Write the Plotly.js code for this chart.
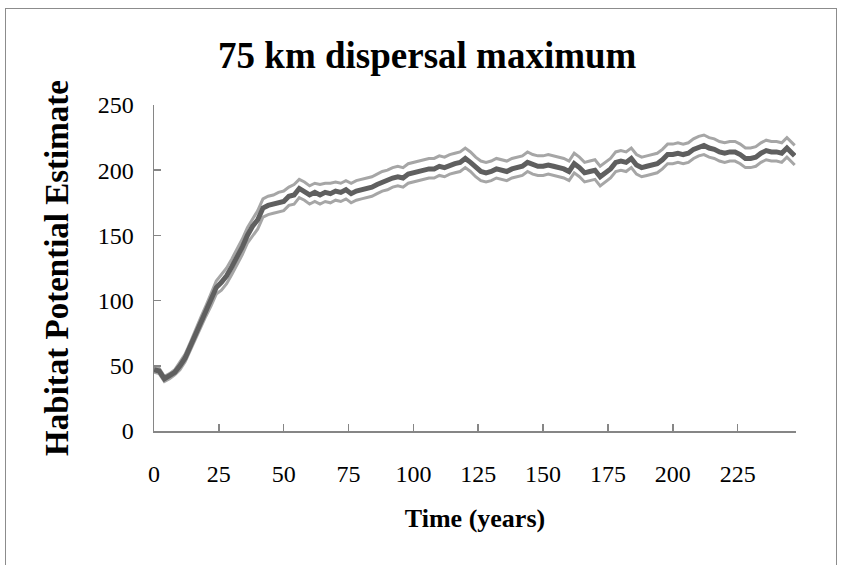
<!DOCTYPE html>
<html>
<head>
<meta charset="utf-8">
<script src="https://cdn.plot.ly/plotly-3.0.1.min.js"></script>
<style>
  body { margin: 0; padding: 0; background: #fff; }
  #wrap { position: relative; width: 841px; height: 565px; overflow: hidden; }
  #chart { position: absolute; left: 0; top: 0; width: 841px; height: 565px; }
  #frame { position: absolute; left: 5px; top: 8px; width: 830px; height: 600px; border: 1px solid #8c8c8c; pointer-events: none; }
</style>
</head>
<body>
<div id="wrap">
  <div id="chart"></div>
  <div id="frame"></div>
</div>
<script>
const years = [0,2,4,6,8,10,12,14,16,18,20,22,24,26,28,30,32,34,36,38,40,42,44,46,48,50,52,54,56,58,60,62,64,66,68,70,72,74,76,78,80,82,84,86,88,90,92,94,96,98,100,102,104,106,108,110,112,114,116,118,120,122,124,126,128,130,132,134,136,138,140,142,144,146,148,150,152,154,156,158,160,162,164,166,168,170,172,174,176,178,180,182,184,186,188,190,192,194,196,198,200,202,204,206,208,210,212,214,216,218,220,222,224,226,228,230,232,234,236,238,240,242,244,246,247];

const meanVals = [47,46,40,42,45,50,56,65,74,83,92,101,110,114,119,126,133,141,150,157,162,171,173,174,175,176,180,181,186,184,181,183,181,183,182,184,183,185,182,184,185,186,187,189,191,192,194,195,194,197,198,199,200,201,201,203,202,204,205,206,209,206,202,199,198,199,201,200,199,201,202,203,206,204,203,203,204,203,202,201,199,205,202,198,199,200,195,198,201,206,207,206,209,204,202,203,204,205,208,212,212,213,212,213,216,218,219,217,216,214,213,214,214,212,209,209,210,213,215,214,214,213,217,213,211];

const upperVals = [49,48,42,44,47,53,59,68,78,87,96,106,115,120,125,132,139,147,156,163,169,178,180,181,183,184,187,189,193,191,188,190,189,190,190,191,190,192,190,192,193,194,195,197,199,200,202,203,202,205,206,207,208,209,209,211,210,212,213,214,217,214,210,207,206,207,209,208,207,209,210,211,214,212,211,211,212,211,210,209,207,213,210,206,207,208,203,206,209,214,215,214,217,212,210,211,212,213,216,220,220,221,220,221,224,226,227,225,224,222,221,222,222,220,217,217,218,221,223,222,222,221,225,221,219];

const lowerVals = [45,44,38,40,43,47,53,62,70,79,88,96,105,108,113,120,127,135,144,150,155,164,166,167,168,169,173,174,179,177,174,176,174,176,175,177,176,178,175,177,178,179,180,182,184,185,187,188,187,190,191,192,193,194,194,196,195,197,198,199,202,199,195,192,191,192,194,193,192,194,195,196,199,197,196,196,197,196,195,194,192,198,195,191,192,193,188,191,194,199,200,199,202,197,195,196,197,198,201,205,205,206,205,206,209,211,212,210,209,207,206,207,207,205,202,202,203,206,208,207,207,206,210,206,204];

const xTicks = [0,25,50,75,100,125,150,175,200,225];
const yTicks = [0,50,100,150,200,250];

const serif = "'Liberation Serif', 'Times New Roman', serif";

const traces = [
  { x: years, y: upperVals, mode: 'lines', line: { color: '#a6a6a6', width: 3 }, hoverinfo: 'skip', showlegend: false },
  { x: years, y: lowerVals, mode: 'lines', line: { color: '#a6a6a6', width: 3 }, hoverinfo: 'skip', showlegend: false },
  { x: years, y: meanVals, mode: 'lines', line: { color: '#5f5f5f', width: 5 }, showlegend: false }
];

const layout = {
  width: 841, height: 565,
  paper_bgcolor: '#ffffff', plot_bgcolor: '#ffffff',
  margin: { l: 154, r: 45, t: 105, b: 134, pad: 0 },
  font: { family: serif, color: '#000000', size: 24 },
  title: {
    text: '<b>75 km dispersal maximum</b>',
    font: { family: serif, size: 37, color: '#000000' },
    x: 0.508, xref: 'container', xanchor: 'center',
    y: 0.903, yref: 'container', yanchor: 'middle'
  },
  xaxis: {
    range: [0, 247.5], tickvals: xTicks, ticktext: xTicks.map(String),
    showgrid: false, zeroline: false,
    showline: true, linecolor: '#868686', linewidth: 1.5,
    ticks: 'inside', ticklen: 7, tickcolor: '#868686', tickwidth: 1.5,
    ticklabelstandoff: 21,
    tickfont: { family: serif, size: 24, color: '#000' },
    title: { text: '<b>Time (years)</b>', font: { family: serif, size: 26, color: '#000' }, standoff: 22 },
    automargin: false, fixedrange: true
  },
  yaxis: {
    range: [0, 250], tickvals: yTicks, ticktext: yTicks.map(String),
    showgrid: false, zeroline: false,
    showline: true, linecolor: '#868686', linewidth: 1.5,
    ticks: 'inside', ticklen: 7, tickcolor: '#868686', tickwidth: 1.5,
    ticklabelstandoff: 14,
    tickfont: { family: serif, size: 24, color: '#000' },
    title: { text: '<b>Habitat Potential Estimate</b>', font: { family: serif, size: 33, color: '#000' }, standoff: 19 },
    automargin: false, fixedrange: true
  }
};

Plotly.newPlot('chart', traces, layout, { staticPlot: true, displayModeBar: false });
</script>
</body>
</html>
